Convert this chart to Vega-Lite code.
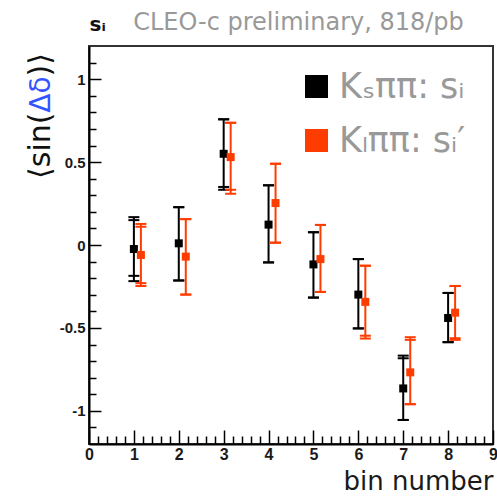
{
  "$schema": "https://vega.github.io/schema/vega-lite/v6.json",
  "width": 404,
  "height": 398,
  "autosize": "none",
  "padding": {"left": 89, "top": 46, "right": 4, "bottom": 52},
  "background": "white",
  "config": {
    "view": {"stroke": "#333333", "strokeWidth": 2},
    "axis": {"grid": false}
  },
  "data": {
    "values": [
      {"series": "KS", "bin": 1, "y": -0.024, "lo": -0.218, "hi": 0.168, "lo2": -0.186, "hi2": 0.15},
      {"series": "KL", "bin": 1, "y": -0.06, "lo": -0.247, "hi": 0.127, "lo2": -0.23, "hi2": 0.11},
      {"series": "KS", "bin": 2, "y": 0.01, "lo": -0.214, "hi": 0.228, "lo2": -0.214, "hi2": 0.228},
      {"series": "KL", "bin": 2, "y": -0.07, "lo": -0.299, "hi": 0.156, "lo2": -0.299, "hi2": 0.156},
      {"series": "KS", "bin": 3, "y": 0.55, "lo": 0.333, "hi": 0.758, "lo2": 0.35, "hi2": 0.758},
      {"series": "KL", "bin": 3, "y": 0.53, "lo": 0.309, "hi": 0.737, "lo2": 0.333, "hi2": 0.737},
      {"series": "KS", "bin": 4, "y": 0.123, "lo": -0.105, "hi": 0.36, "lo2": -0.105, "hi2": 0.36},
      {"series": "KL", "bin": 4, "y": 0.253, "lo": 0.014, "hi": 0.49, "lo2": 0.014, "hi2": 0.49},
      {"series": "KS", "bin": 5, "y": -0.117, "lo": -0.317, "hi": 0.077, "lo2": -0.317, "hi2": 0.077},
      {"series": "KL", "bin": 5, "y": -0.085, "lo": -0.283, "hi": 0.121, "lo2": -0.283, "hi2": 0.121},
      {"series": "KS", "bin": 6, "y": -0.299, "lo": -0.503, "hi": -0.085, "lo2": -0.503, "hi2": -0.085},
      {"series": "KL", "bin": 6, "y": -0.343, "lo": -0.564, "hi": -0.125, "lo2": -0.547, "hi2": -0.125},
      {"series": "KS", "bin": 7, "y": -0.865, "lo": -1.055, "hi": -0.667, "lo2": -1.055, "hi2": -0.683},
      {"series": "KL", "bin": 7, "y": -0.768, "lo": -0.96, "hi": -0.556, "lo2": -0.96, "hi2": -0.572},
      {"series": "KS", "bin": 8, "y": -0.44, "lo": -0.586, "hi": -0.289, "lo2": -0.586, "hi2": -0.289},
      {"series": "KL", "bin": 8, "y": -0.408, "lo": -0.572, "hi": -0.247, "lo2": -0.562, "hi2": -0.247}
    ]
  },
  "layer": [
    {
      "transform": [{"filter": "datum.series == 'KS'"}],
      "mark": {"type": "rule", "color": "black", "strokeWidth": 2},
      "encoding": {
        "x": {"field": "bin", "type": "quantitative", "scale": {"domain": [0, 9], "nice": false, "zero": false},
          "axis": {"orient": "bottom", "values": [0, 1, 2, 3, 4, 5, 6, 7, 8, 9], "tickSize": -14, "tickWidth": 1.5, "tickColor": "black",
            "domainColor": "black", "domainWidth": 2, "labelFont": "Liberation Sans", "labelFontWeight": "bold", "labelFontSize": 16,
            "labelColor": "#1a1a1a", "labelPadding": 16, "labelFlush": false, "labelOverlap": false, "labelExpr": "toString(datum.value)",
            "title": "bin number", "titleFont": "DejaVu Sans", "titleFontSize": 26, "titleFontWeight": "normal", "titleColor": "#1a1a1a",
            "titleAlign": "right", "titleBaseline": "alphabetic", "titleX": 404, "titleY": 45}},
        "y": {"field": "lo", "type": "quantitative", "scale": {"domain": [-1.2, 1.2], "nice": false, "zero": false},
          "axis": {"orient": "left", "values": [-1, -0.5, 0, 0.5, 1], "tickSize": -12, "tickWidth": 1.5, "tickColor": "black",
            "domainColor": "black", "domainWidth": 2, "labelFont": "Liberation Sans", "labelFontWeight": "bold", "labelFontSize": 15,
            "labelColor": "#1a1a1a", "labelPadding": 16, "labelFlush": false, "labelOverlap": false, "labelExpr": "toString(datum.value)",
            "title": "⟨sin(", "titleFont": "DejaVu Sans", "titleFontSize": 30, "titleFontWeight": "normal", "titleColor": "#111111",
            "titleAngle": -90, "titleAlign": "right", "titleBaseline": "alphabetic", "titleX": -40, "titleY": 66}},
        "y2": {"field": "hi"}
      }
    },
    {
      "transform": [{"filter": "datum.series == 'KS'"}],
      "mark": {"type": "tick", "orient": "horizontal", "size": 11, "thickness": 2, "color": "black", "opacity": 1},
      "encoding": {
        "x": {"field": "bin", "type": "quantitative", "scale": {"domain": [0, 9], "nice": false, "zero": false},
          "axis": {"orient": "bottom", "values": [0.2, 0.4, 0.6, 0.8, 1.2, 1.4, 1.6, 1.8, 2.2, 2.4, 2.6, 2.8, 3.2, 3.4, 3.6, 3.8, 4.2, 4.4, 4.6, 4.8, 5.2, 5.4, 5.6, 5.8, 6.2, 6.4, 6.6, 6.8, 7.2, 7.4, 7.6, 7.8, 8.2, 8.4, 8.6, 8.8],
            "tickSize": -8, "tickWidth": 1.5, "tickColor": "black", "domain": false, "labels": false, "title": null}},
        "y": {"field": "hi", "type": "quantitative", "scale": {"domain": [-1.2, 1.2], "nice": false, "zero": false},
          "axis": {"orient": "left", "values": [-1.1, -0.9, -0.8, -0.7, -0.6, -0.4, -0.3, -0.2, -0.1, 0.1, 0.2, 0.3, 0.4, 0.6, 0.7, 0.8, 0.9, 1.1],
            "tickSize": -7, "tickWidth": 1.5, "tickColor": "black", "domain": false, "labels": false,
            "title": "Δδ", "titleFont": "DejaVu Sans", "titleFontSize": 28, "titleFontWeight": "normal", "titleColor": "#3355ff",
            "titleAngle": -90, "titleAlign": "center", "titleBaseline": "alphabetic", "titleX": -40, "titleY": 48}}
      }
    },
    {
      "transform": [{"filter": "datum.series == 'KS'"}],
      "mark": {"type": "tick", "orient": "horizontal", "size": 11, "thickness": 2, "color": "black", "opacity": 1},
      "encoding": {
        "x": {"field": "bin", "type": "quantitative", "scale": {"domain": [0, 9], "nice": false, "zero": false},
          "axis": {"orient": "top", "ticks": false, "domain": false, "labels": false,
            "title": "sᵢ", "titleFont": "DejaVu Sans", "titleFontSize": 20, "titleFontWeight": "bold", "titleColor": "#111111",
            "titleAlign": "left", "titleBaseline": "alphabetic", "titleX": 0, "titleY": -16}},
        "y": {"field": "lo", "type": "quantitative", "scale": {"domain": [-1.2, 1.2], "nice": false, "zero": false},
          "axis": {"orient": "left", "ticks": false, "domain": false, "labels": false,
            "title": ")⟩", "titleFont": "DejaVu Sans", "titleFontSize": 30, "titleFontWeight": "normal", "titleColor": "#111111",
            "titleAngle": -90, "titleAlign": "left", "titleBaseline": "alphabetic", "titleX": -40, "titleY": 30}}
      }
    },
    {
      "transform": [{"filter": "datum.series == 'KS'"}],
      "mark": {"type": "tick", "orient": "horizontal", "size": 11, "thickness": 2, "color": "black", "opacity": 1},
      "encoding": {
        "x": {"field": "bin", "type": "quantitative", "scale": {"domain": [0, 9], "nice": false, "zero": false},
          "axis": {"orient": "top", "ticks": false, "domain": false, "labels": false,
            "title": "CLEO-c preliminary, 818/pb", "titleFont": "DejaVu Sans", "titleFontSize": 24, "titleFontWeight": "normal", "titleColor": "#999999",
            "titleAlign": "center", "titleBaseline": "alphabetic", "titleX": 209, "titleY": -17}},
        "y": {"field": "hi2", "type": "quantitative", "scale": {"domain": [-1.2, 1.2], "nice": false, "zero": false}, "axis": null}
      }
    },
    {
      "transform": [{"filter": "datum.series == 'KS'"}],
      "mark": {"type": "tick", "orient": "horizontal", "size": 11, "thickness": 2, "color": "black", "opacity": 1},
      "encoding": {
        "x": {"field": "bin", "type": "quantitative", "scale": {"domain": [0, 9], "nice": false, "zero": false}, "axis": null},
        "y": {"field": "lo2", "type": "quantitative", "scale": {"domain": [-1.2, 1.2], "nice": false, "zero": false}, "axis": null}
      }
    },
    {
      "transform": [{"filter": "datum.series == 'KL'"}],
      "mark": {"type": "rule", "color": "#ff3c00", "strokeWidth": 2, "xOffset": 7},
      "encoding": {
        "x": {"field": "bin", "type": "quantitative", "scale": {"domain": [0, 9], "nice": false, "zero": false}, "axis": null},
        "y": {"field": "lo", "type": "quantitative", "scale": {"domain": [-1.2, 1.2], "nice": false, "zero": false}, "axis": null},
        "y2": {"field": "hi"}
      }
    },
    {
      "transform": [{"filter": "datum.series == 'KL'"}],
      "mark": {"type": "tick", "orient": "horizontal", "size": 11, "thickness": 2, "color": "#ff3c00", "opacity": 1, "xOffset": 7},
      "encoding": {
        "x": {"field": "bin", "type": "quantitative", "scale": {"domain": [0, 9], "nice": false, "zero": false}, "axis": null},
        "y": {"field": "hi", "type": "quantitative", "scale": {"domain": [-1.2, 1.2], "nice": false, "zero": false}, "axis": null}
      }
    },
    {
      "transform": [{"filter": "datum.series == 'KL'"}],
      "mark": {"type": "tick", "orient": "horizontal", "size": 11, "thickness": 2, "color": "#ff3c00", "opacity": 1, "xOffset": 7},
      "encoding": {
        "x": {"field": "bin", "type": "quantitative", "scale": {"domain": [0, 9], "nice": false, "zero": false}, "axis": null},
        "y": {"field": "lo", "type": "quantitative", "scale": {"domain": [-1.2, 1.2], "nice": false, "zero": false}, "axis": null}
      }
    },
    {
      "transform": [{"filter": "datum.series == 'KL'"}],
      "mark": {"type": "tick", "orient": "horizontal", "size": 11, "thickness": 2, "color": "#ff3c00", "opacity": 1, "xOffset": 7},
      "encoding": {
        "x": {"field": "bin", "type": "quantitative", "scale": {"domain": [0, 9], "nice": false, "zero": false}, "axis": null},
        "y": {"field": "hi2", "type": "quantitative", "scale": {"domain": [-1.2, 1.2], "nice": false, "zero": false}, "axis": null}
      }
    },
    {
      "transform": [{"filter": "datum.series == 'KL'"}],
      "mark": {"type": "tick", "orient": "horizontal", "size": 11, "thickness": 2, "color": "#ff3c00", "opacity": 1, "xOffset": 7},
      "encoding": {
        "x": {"field": "bin", "type": "quantitative", "scale": {"domain": [0, 9], "nice": false, "zero": false}, "axis": null},
        "y": {"field": "lo2", "type": "quantitative", "scale": {"domain": [-1.2, 1.2], "nice": false, "zero": false}, "axis": null}
      }
    },
    {
      "transform": [{"filter": "datum.series == 'KS'"}],
      "mark": {"type": "point", "shape": "square", "filled": true, "size": 64, "opacity": 1},
      "encoding": {
        "x": {"field": "bin", "type": "quantitative", "scale": {"domain": [0, 9], "nice": false, "zero": false}, "axis": null},
        "y": {"field": "y", "type": "quantitative", "scale": {"domain": [-1.2, 1.2], "nice": false, "zero": false}, "axis": null},
        "color": {"field": "series", "type": "nominal", "scale": {"domain": ["KS", "KL"], "range": ["#000000", "#ff3c00"]},
          "legend": {"orient": "none", "legendX": 210, "legendY": 23, "title": null, "symbolType": "square", "symbolSize": 529,
            "symbolOpacity": 1, "symbolStrokeWidth": 0, "labelFont": "DejaVu Sans", "labelFontSize": 35, "labelColor": "#999999",
            "labelOffset": 5, "rowPadding": 18, "labelLimit": 300,
            "labelExpr": "datum.value == 'KS' ? 'Kₛππ: sᵢ' : 'Kₗππ: sᵢ′'"}}
      }
    },
    {
      "transform": [{"filter": "datum.series == 'KL'"}],
      "mark": {"type": "point", "shape": "square", "filled": true, "size": 64, "opacity": 1, "xOffset": 7},
      "encoding": {
        "x": {"field": "bin", "type": "quantitative", "scale": {"domain": [0, 9], "nice": false, "zero": false}, "axis": null},
        "y": {"field": "y", "type": "quantitative", "scale": {"domain": [-1.2, 1.2], "nice": false, "zero": false}, "axis": null},
        "color": {"field": "series", "type": "nominal", "scale": {"domain": ["KS", "KL"], "range": ["#000000", "#ff3c00"]}}
      }
    }
  ],
  "resolve": {"axis": {"x": "independent", "y": "independent"}}
}
